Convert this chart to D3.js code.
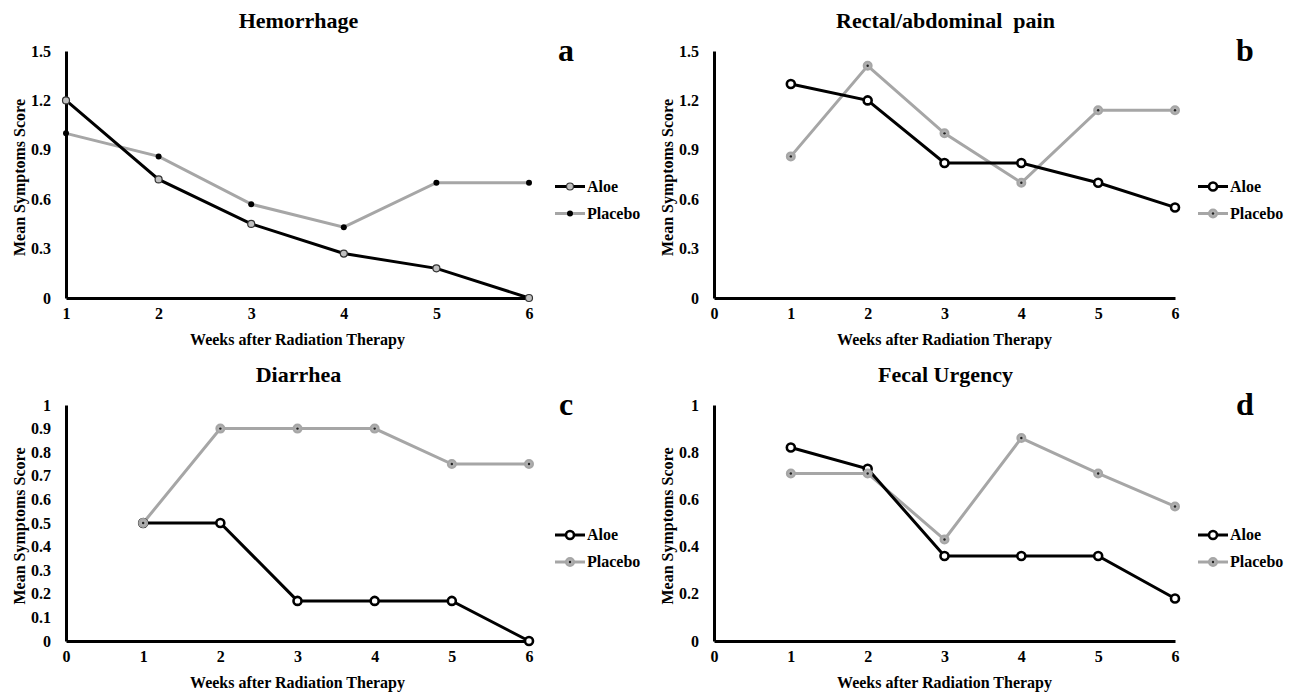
<!DOCTYPE html>
<meta charset="utf-8">
<script src="https://d3js.org/d3.v7.min.js"></script>
<style>
  body { margin: 0; background: #fff; }
  text { font-family: 'Liberation Serif', 'Times New Roman', serif; font-weight: bold; fill: #000; }
</style>
<body>
<div id="my_dataviz"></div>
<script>

// data
var weeks = [1, 2, 3, 4, 5, 6];
var titles = ["Hemorrhage", "Rectal/abdominal  pain", "Diarrhea", "Fecal Urgency"];
var letters = ["a", "b", "c", "d"];
var seriesNames = ["Aloe", "Placebo"];

var hemorrhageAloe    = [1.2, 0.72, 0.45, 0.27, 0.18, 0];
var hemorrhagePlacebo = [1.0, 0.86, 0.57, 0.43, 0.70, 0.70];
var painAloe          = [1.3, 1.2, 0.82, 0.82, 0.70, 0.55];
var painPlacebo       = [0.86, 1.41, 1.0, 0.70, 1.14, 1.14];
var diarrheaAloe      = [0.5, 0.5, 0.17, 0.17, 0.17, 0];
var diarrheaPlacebo   = [0.5, 0.9, 0.9, 0.9, 0.75, 0.75];
var urgencyAloe       = [0.82, 0.73, 0.36, 0.36, 0.36, 0.18];
var urgencyPlacebo    = [0.71, 0.71, 0.43, 0.86, 0.71, 0.57];

var yTicksA = [0, 0.3, 0.6, 0.9, 1.2, 1.5];
var yTicksB = [0, 0.3, 0.6, 0.9, 1.2, 1.5];
var yTicksC = [0, 0.1, 0.2, 0.3, 0.4, 0.5, 0.6, 0.7, 0.8, 0.9, 1];
var yTicksD = [0, 0.2, 0.4, 0.6, 0.8, 1];
var xTicksA = [1, 2, 3, 4, 5, 6];
var xTicksBCD = [0, 1, 2, 3, 4, 5, 6];

var grey = "#a6a6a6";

var svg = d3.select("#my_dataviz")
  .append("svg")
    .attr("width", 1293)
    .attr("height", 692);

// panel frames (pixel positions of the axes)
var panels = [
  {left: 66,  right: 529,  top: 51,  bottom: 298, letterX: 566,  legendX: 555,  xMin: 1, yMax: 1.5, xTicks: xTicksA,   yTicks: yTicksA, aloe: hemorrhageAloe, placebo: hemorrhagePlacebo, style: "a"},
  {left: 714, right: 1175, top: 51,  bottom: 298, letterX: 1245, legendX: 1198, xMin: 0, yMax: 1.5, xTicks: xTicksBCD, yTicks: yTicksB, aloe: painAloe,       placebo: painPlacebo,       style: "b"},
  {left: 66,  right: 529,  top: 405, bottom: 641, letterX: 566,  legendX: 555,  xMin: 0, yMax: 1,   xTicks: xTicksBCD, yTicks: yTicksC, aloe: diarrheaAloe,   placebo: diarrheaPlacebo,   style: "b"},
  {left: 714, right: 1175, top: 405, bottom: 641, letterX: 1245, legendX: 1198, xMin: 0, yMax: 1,   xTicks: xTicksBCD, yTicks: yTicksD, aloe: urgencyAloe,    placebo: urgencyPlacebo,    style: "b"}
];

function drawMarker(g, cx, cy, series, style) {
  if (style == "a") {
    if (series == "Aloe") {
      g.append("circle").attr("cx", cx).attr("cy", cy).attr("r", 3.5)
        .attr("fill", "#c0c0c0").attr("stroke", "#333").attr("stroke-width", 1.2);
    } else {
      g.append("circle").attr("cx", cx).attr("cy", cy).attr("r", 3)
        .attr("fill", "#000");
    }
  } else {
    if (series == "Aloe") {
      g.append("circle").attr("cx", cx).attr("cy", cy).attr("r", 4)
        .attr("fill", "#fff").attr("stroke", "#000").attr("stroke-width", 2.6);
    } else {
      g.append("circle").attr("cx", cx).attr("cy", cy).attr("r", 4)
        .attr("fill", "#b0b0b0").attr("stroke", grey).attr("stroke-width", 2);
      g.append("circle").attr("cx", cx).attr("cy", cy).attr("r", 1.2)
        .attr("fill", "#222");
    }
  }
}

panels.forEach(function(p, i) {
  var g = svg.append("g");

  var x = d3.scaleLinear().domain([p.xMin, 6]).range([p.left, p.right]);
  var y = d3.scaleLinear().domain([0, p.yMax]).range([p.bottom, p.top]);

  // axes
  var xAxis = g.append("g")
    .attr("transform", "translate(0," + p.bottom + ")")
    .call(d3.axisBottom(x).tickValues(p.xTicks).tickSize(0).tickPadding(10).tickFormat(d3.format("d")));
  var yAxis = g.append("g")
    .attr("transform", "translate(" + p.left + ",0)")
    .call(d3.axisLeft(y).tickValues(p.yTicks).tickSize(0).tickPadding(15).tickFormat(function(d) { return String(+d.toFixed(1)); }));

  [xAxis, yAxis].forEach(function(ax) {
    ax.select(".domain").attr("stroke", "#000").attr("stroke-width", 3);
    ax.selectAll("text")
      .style("font-family", "'Liberation Serif', serif")
      .style("font-weight", "bold")
      .style("font-size", "16px")
      .attr("fill", "#000");
  });

  // titles
  var cx = (p.left + p.right) / 2;
  g.append("text")
    .attr("x", cx + 1).attr("y", p.top - 23)
    .attr("text-anchor", "middle")
    .style("font-size", "22px")
    .style("white-space", "pre")
    .text(titles[i]);

  g.append("text")
    .attr("x", p.letterX).attr("y", p.top + 10)
    .attr("text-anchor", "middle")
    .style("font-size", "32px")
    .text(letters[i]);

  g.append("text")
    .attr("x", cx).attr("y", p.bottom + 47)
    .attr("text-anchor", "middle")
    .style("font-size", "16px")
    .text("Weeks after Radiation Therapy");

  g.append("text")
    .attr("transform", "translate(" + (p.left - 41) + "," + ((p.top + p.bottom) / 2 + 3) + ") rotate(-90)")
    .attr("text-anchor", "middle")
    .style("font-size", "16px")
    .text("Mean Symptoms Score");

  // lines
  var line = d3.line()
    .x(function(d, j) { return x(weeks[j]); })
    .y(function(d) { return y(d); });

  g.append("path").datum(p.placebo)
    .attr("fill", "none").attr("stroke", grey).attr("stroke-width", 3)
    .attr("d", line);
  g.append("path").datum(p.aloe)
    .attr("fill", "none").attr("stroke", "#000").attr("stroke-width", 3)
    .attr("d", line);

  var order = p.style == "a" ? [["Placebo", p.placebo], ["Aloe", p.aloe]] : [["Aloe", p.aloe], ["Placebo", p.placebo]];
  order.forEach(function(s) {
    s[1].forEach(function(v, j) { drawMarker(g, x(weeks[j]), y(v), s[0], p.style); });
  });

  // legend
  var ly = (p.top + p.bottom) / 2 + 12;
  seriesNames.forEach(function(name, k) {
    var yy = ly + k * 27;
    var x0 = p.legendX;
    g.append("line")
      .attr("x1", x0).attr("x2", x0 + 30).attr("y1", yy).attr("y2", yy)
      .attr("stroke", name == "Aloe" ? "#000" : grey).attr("stroke-width", 3);
    drawMarker(g, x0 + 15, yy, name, p.style);
    g.append("text")
      .attr("x", x0 + 32).attr("y", yy + 5)
      .style("font-size", "16px")
      .text(name);
  });
});

</script>
</body>
